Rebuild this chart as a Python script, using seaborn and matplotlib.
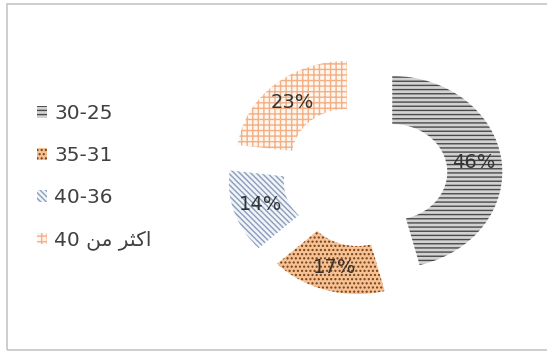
import matplotlib
matplotlib.use("Agg")
import matplotlib.pyplot as plt
from matplotlib.patches import Patch, Rectangle
import seaborn as sns

# Age groups and their shares (%)
categories = ["30-25", "35-31", "40-36", "اكثر من 40"]
shares = [46, 17, 14, 23]

# Pattern fill for each group: face colour, pattern colour, hatch
face_colors = ["#d2d2d2", "#f5c295", "#f1f4f9", "#fef6ef"]
pattern_colors = ["#4a4a4a", "#7a3d12", "#8a9dba", "#f3b085"]
hatches = ["----", "....", "\\\\\\\\\\\\", "+++"]

sns.set_theme(style="white")
plt.rcParams["font.family"] = ["DejaVu Sans"]
plt.rcParams["hatch.linewidth"] = 1.0

# Minimal Arabic shaping (contextual forms + right-to-left order) for the
# letters used in the labels, since matplotlib draws text left to right.
_FORMS = {
    "ا": ("\ufe8d", "\ufe8e", None, None),
    "ك": ("\ufed9", "\ufeda", "\ufedb", "\ufedc"),
    "ث": ("\ufe99", "\ufe9a", "\ufe9b", "\ufe9c"),
    "ر": ("\ufead", "\ufeae", None, None),
    "م": ("\ufee1", "\ufee2", "\ufee3", "\ufee4"),
    "ن": ("\ufee5", "\ufee6", "\ufee7", "\ufee8"),
}


def _shape_word(word):
    out = []
    for i, ch in enumerate(word):
        if ch not in _FORMS:
            out.append(ch)
            continue
        iso, fin, ini, med = _FORMS[ch]
        prev = word[i - 1] if i > 0 else None
        nxt = word[i + 1] if i + 1 < len(word) else None
        join_prev = prev in _FORMS and _FORMS[prev][2] is not None
        join_next = nxt in _FORMS and ini is not None
        if join_prev and join_next:
            out.append(med)
        elif join_prev:
            out.append(fin)
        elif join_next:
            out.append(ini)
        else:
            out.append(iso)
    return "".join(out)


def display_text(label):
    if not any(ch in _FORMS for ch in label):
        return label
    words = label.split(" ")
    shaped = [_shape_word(w)[::-1] if any(c in _FORMS for c in w) else w
              for w in words]
    return " ".join(reversed(shaped))


fig = plt.figure(figsize=(5.47, 3.51), dpi=100)
ax = fig.add_axes([0, 0, 1, 1])

wedges, _, autotexts = ax.pie(
    shares,
    startangle=90,
    counterclock=False,
    explode=[0.25] * len(shares),
    radius=1.0,
    colors=face_colors,
    autopct=lambda p: f"{p:.0f}%",
    pctdistance=0.75,
    wedgeprops=dict(width=0.5, linewidth=0),
    textprops=dict(fontsize=14, color="#333333"),
)
for w, pc, h in zip(wedges, pattern_colors, hatches):
    w.set_hatch(h)
    w.set_edgecolor(pc)
    w.set_linewidth(0)

# Slightly oval ring placed right of centre
ax.set_aspect("auto")
ax.set_xlim(-365 / 110, 182 / 110)
ax.set_ylim(-176 / 96, 175 / 96)
ax.axis("off")

handles = [
    Patch(facecolor=fc, edgecolor=pc, hatch=h, linewidth=0)
    for fc, pc, h in zip(face_colors, pattern_colors, hatches)
]
fig.legend(
    handles,
    [display_text(c) for c in categories],
    loc="center left",
    bbox_to_anchor=(37 / 547, 0.495),
    frameon=False,
    fontsize=14.5,
    handlelength=0.5,
    handleheight=0.5,
    handletextpad=0.35,
    labelspacing=1.15,
    borderpad=0,
    borderaxespad=0,
    labelcolor="#404040",
)

# Thin light frame around the chart area
fig.patches.append(
    Rectangle((7 / 547, 1 / 351), 1.2, 346 / 351, transform=fig.transFigure,
              fill=False, edgecolor="#c6c6c6", linewidth=1.2)
)

fig.savefig("out.png", dpi=100, facecolor="white")
